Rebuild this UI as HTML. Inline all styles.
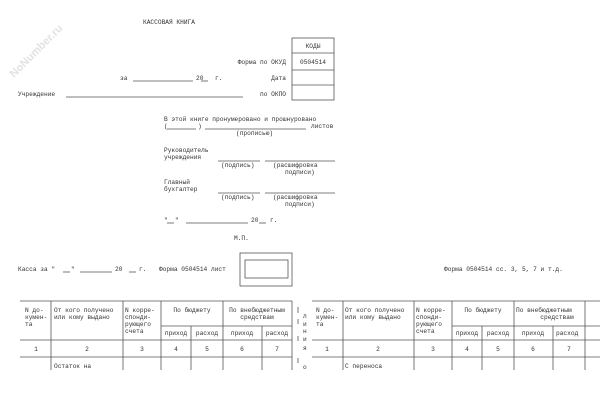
<!DOCTYPE html>
<html><head><meta charset="utf-8"><style>
html,body{margin:0;padding:0;background:#fff;width:600px;height:420px;overflow:hidden}
svg text{font-family:"Liberation Mono","DejaVu Sans Mono",monospace;font-size:6.2px;fill:#333}
</style></head><body>
<svg width="600" height="420" viewBox="0 0 600 420" xmlns="http://www.w3.org/2000/svg">
<g stroke="#555" stroke-width="0.8" fill="none">
<rect x="292" y="38" width="42" height="62"/>
<line x1="292" y1="53" x2="334" y2="53"/><line x1="292" y1="70" x2="334" y2="70"/><line x1="292" y1="85" x2="334" y2="85"/>
<line x1="133" y1="81" x2="193" y2="81"/><line x1="201" y1="81" x2="208" y2="81"/>
<line x1="66" y1="97" x2="243" y2="97"/>
<line x1="167" y1="129" x2="196" y2="129"/><line x1="205" y1="129" x2="306" y2="129"/>
<line x1="218" y1="161" x2="260" y2="161"/><line x1="265" y1="161" x2="335" y2="161"/>
<line x1="218" y1="193" x2="260" y2="193"/><line x1="265" y1="193" x2="335" y2="193"/>
<line x1="167" y1="223" x2="174" y2="223"/><line x1="186" y1="223" x2="248" y2="223"/><line x1="259" y1="223" x2="266" y2="223"/>
<line x1="63" y1="272" x2="70" y2="272"/><line x1="80" y1="272" x2="112" y2="272"/><line x1="129" y1="272" x2="136" y2="272"/>
<rect x="240" y="253" width="52" height="33"/>
<rect x="245" y="260" width="43" height="18"/>
<line x1="20" y1="301" x2="292" y2="301"/>
<line x1="161" y1="326" x2="292" y2="326"/>
<line x1="20" y1="340" x2="292" y2="340"/>
<line x1="20" y1="357" x2="292" y2="357"/>
<line x1="51" y1="301" x2="51" y2="370"/><line x1="123" y1="301" x2="123" y2="370"/>
<line x1="161" y1="301" x2="161" y2="370"/><line x1="191" y1="326" x2="191" y2="370"/>
<line x1="223" y1="301" x2="223" y2="370"/><line x1="262" y1="326" x2="262" y2="370"/>
<line x1="292" y1="301" x2="292" y2="370"/>
<line x1="298" y1="307" x2="298" y2="313"/><line x1="298" y1="319" x2="298" y2="324"/><line x1="298" y1="336" x2="298" y2="341"/><line x1="298" y1="358" x2="298" y2="363"/>
<line x1="312" y1="301" x2="600" y2="301"/>
<line x1="452" y1="326" x2="600" y2="326"/>
<line x1="312" y1="340" x2="600" y2="340"/>
<line x1="312" y1="357" x2="600" y2="357"/>
<line x1="343" y1="301" x2="343" y2="370"/><line x1="414" y1="301" x2="414" y2="370"/>
<line x1="452" y1="301" x2="452" y2="370"/><line x1="482" y1="326" x2="482" y2="370"/>
<line x1="514" y1="301" x2="514" y2="370"/><line x1="553" y1="326" x2="553" y2="370"/>
<line x1="585" y1="301" x2="585" y2="370"/>
</g>
<text x="143" y="24">КАССОВАЯ КНИГА</text>
<text x="313" y="48" text-anchor="middle">КОДЫ</text>
<text x="313" y="64" text-anchor="middle">0504514</text>
<text x="286" y="64" text-anchor="end">Форма по ОКУД</text>
<text x="286" y="80" text-anchor="end">Дата</text>
<text x="286" y="96" text-anchor="end">по ОКПО</text>
<text x="120" y="80">за</text><text x="196" y="80">20</text><text x="215" y="80">г.</text>
<text x="18" y="96">Учреждение</text>
<text x="164" y="121">В этой книге пронумеровано и прошнуровано</text>
<text x="164" y="128">(</text><text x="198" y="128">)</text><text x="311" y="128">листов</text>
<text x="236" y="135">(прописью)</text>
<text x="164" y="152">Руководитель</text><text x="164" y="159">учреждения</text>
<text x="221" y="167">(подпись)</text><text x="273" y="167">(расшифровка</text><text x="285" y="174">подписи)</text>
<text x="164" y="184">Главный</text><text x="164" y="191">бухгалтер</text>
<text x="221" y="199">(подпись)</text><text x="273" y="199">(расшифровка</text><text x="285" y="206">подписи)</text>
<text x="164" y="222">"</text><text x="175" y="222">"</text><text x="251" y="222">20</text><text x="270" y="222">г.</text>
<text x="234" y="240">М.П.</text>
<text x="18" y="271">Касса за "</text><text x="71" y="271">"</text><text x="115" y="271">20</text><text x="139" y="271">г.</text>
<text x="159" y="271">Форма 0504514 лист</text>
<text x="444" y="271">Форма 0504514 сс. 3, 5, 7 и т.д.</text>
<text x="25" y="312">N до-</text><text x="25" y="319">кумен-</text><text x="25" y="326">та</text>
<text x="54" y="312">От кого получено</text><text x="54" y="319">или кому выдано</text>
<text x="125" y="312">N корре-</text><text x="125" y="319">спонди-</text><text x="125" y="326">рующего</text><text x="125" y="333">счета</text>
<text x="192" y="312" text-anchor="middle">По бюджету</text>
<text x="257" y="312" text-anchor="middle">По внебюджетным</text><text x="257" y="319" text-anchor="middle">средствам</text>
<text x="176" y="335" text-anchor="middle">приход</text><text x="207" y="335" text-anchor="middle">расход</text>
<text x="242" y="335" text-anchor="middle">приход</text><text x="277" y="335" text-anchor="middle">расход</text>
<text x="36" y="351" text-anchor="middle">1</text><text x="87" y="351" text-anchor="middle">2</text><text x="142" y="351" text-anchor="middle">3</text>
<text x="176" y="351" text-anchor="middle">4</text><text x="207" y="351" text-anchor="middle">5</text><text x="242" y="351" text-anchor="middle">6</text><text x="277" y="351" text-anchor="middle">7</text>
<text x="54" y="368">Остаток на</text>
<text x="303" y="318">л</text><text x="303" y="326">и</text><text x="303" y="333">н</text><text x="303" y="341">и</text><text x="303" y="350">я</text><text x="303" y="369">о</text>
<text x="316" y="312">N до-</text><text x="316" y="319">кумен-</text><text x="316" y="326">та</text>
<text x="345" y="312">От кого получено</text><text x="345" y="319">или кому выдано</text>
<text x="416" y="312">N корре-</text><text x="416" y="319">спонди-</text><text x="416" y="326">рующего</text><text x="416" y="333">счета</text>
<text x="483" y="312" text-anchor="middle">По бюджету</text>
<text x="516" y="312">По внебюджетным</text><text x="557" y="319" text-anchor="middle">средствам</text>
<text x="467" y="335" text-anchor="middle">приход</text><text x="498" y="335" text-anchor="middle">расход</text>
<text x="533" y="335" text-anchor="middle">приход</text><text x="556" y="335">расход</text>
<text x="327" y="351" text-anchor="middle">1</text><text x="378" y="351" text-anchor="middle">2</text><text x="433" y="351" text-anchor="middle">3</text>
<text x="467" y="351" text-anchor="middle">4</text><text x="498" y="351" text-anchor="middle">5</text><text x="533" y="351" text-anchor="middle">6</text><text x="569" y="351" text-anchor="middle">7</text>
<text x="345" y="368">С переноса</text>
<text x="14" y="78" transform="rotate(-45 14 78)" style="font-family:'Liberation Sans',sans-serif;font-size:11px;fill:#e2e2e2;font-weight:bold">NoNumber.ru</text>
</svg>
</body></html>
